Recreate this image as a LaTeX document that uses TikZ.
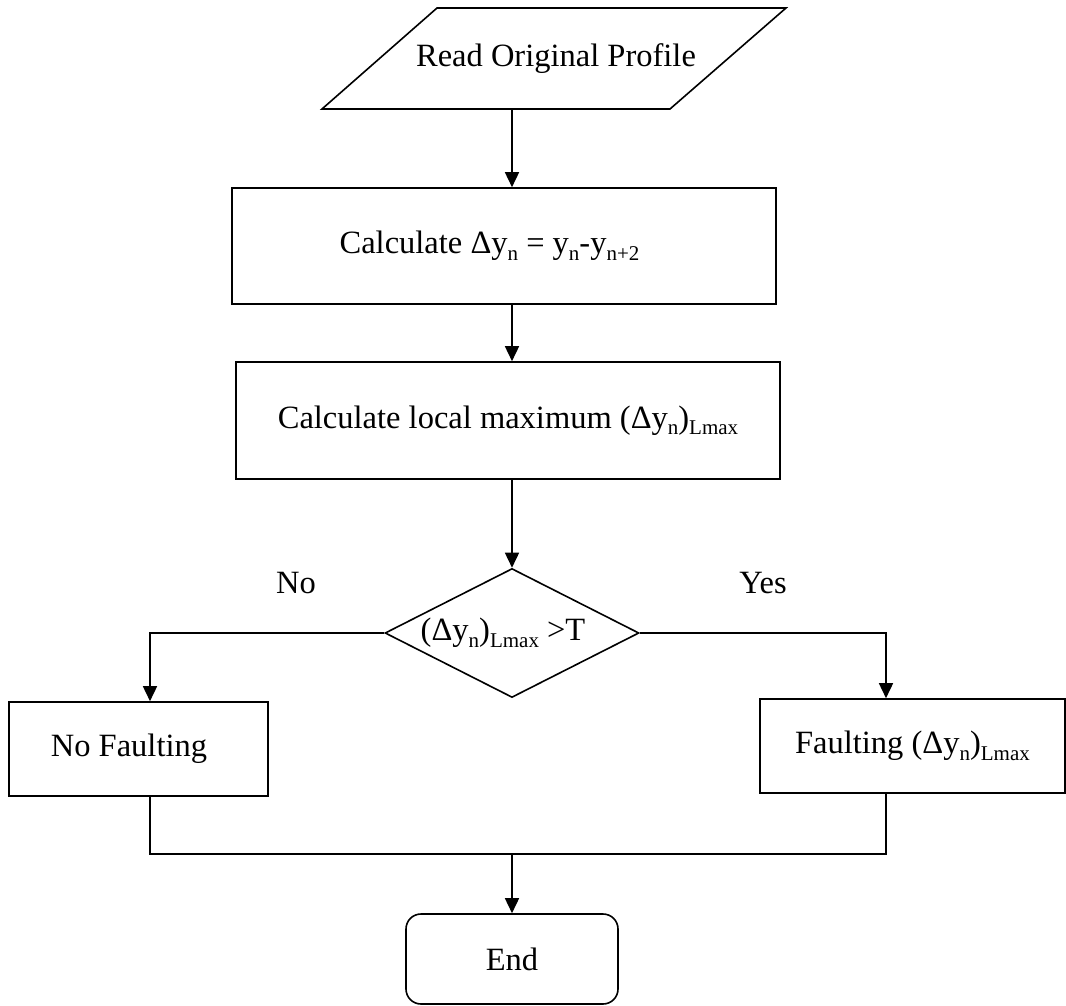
\documentclass[tikz,border=0pt]{standalone}
\usepackage{fontspec}
\setmainfont{Liberation Serif}
\usetikzlibrary{arrows.meta,shapes.geometric}
\newcommand{\sbs}[1]{\raisebox{-0.2em}{\fontsize{21}{21}\selectfont #1}}
\begin{document}
\begin{tikzpicture}[x=1pt,y=-1pt,
  font=\fontsize{32.5}{38}\selectfont,
  line width=1.6pt,
  box/.style={draw, rectangle, inner sep=0pt},
  arr/.style={-{Triangle[length=15pt,width=14pt]}}]
\useasboundingbox (0,0) rectangle (1066,1006);
% input parallelogram
\draw (322,109) -- (437,8) -- (786,8) -- (670,109) -- cycle;
\node (read) at (556,59) {Read Original Profile};
\coordinate (readb) at (512,109);
% process boxes
\node[box, minimum width=544pt, minimum height=116pt] (calc) at (504,246)
  {Calculate Δy\sbs{n} = y\sbs{n}-y\sbs{n+2}\kern29pt};
\node[box, minimum width=544pt, minimum height=117pt] (lmax) at (508,420.5)
  {Calculate local maximum (Δy\sbs{n})\sbs{Lmax}};
% decision
\node[draw, diamond, aspect=2, inner sep=0pt, minimum width=254pt, minimum height=129pt] (dec) at (512,633)
  {(Δy\sbs{n})\sbs{Lmax} >T\kern18pt};
\node (no) at (296,583) {No};
\node (yes) at (763,583) {Yes};
% outcomes
\node[box, minimum width=259pt, minimum height=94pt] (nf) at (138.5,749) {No Faulting\kern19pt};
\node[box, minimum width=305pt, minimum height=94pt] (fa) at (912.5,746) {Faulting (Δy\sbs{n})\sbs{Lmax}};
\node[draw, rectangle, rounded corners=15pt, minimum width=212pt, minimum height=90pt] (end) at (512,959) {End};
\coordinate (nfx) at (150,0);
\coordinate (fax) at (886,0);
\coordinate (join) at (512,854);
% connectors
\draw[arr] (readb) -- (readb |- calc.north);
\draw[arr] (readb |- calc.south) -- (readb |- lmax.north);
\draw[arr] (readb |- lmax.south) -- (dec.north);
\draw[arr] (dec.west) -| (nfx |- nf.north);
\draw[arr] (dec.east) -| (fax |- fa.north);
\draw (nfx |- nf.south) |- (fax |- join) -- (fax |- fa.south);
\draw[arr] (join) -- (end.north);
\end{tikzpicture}
\end{document}
